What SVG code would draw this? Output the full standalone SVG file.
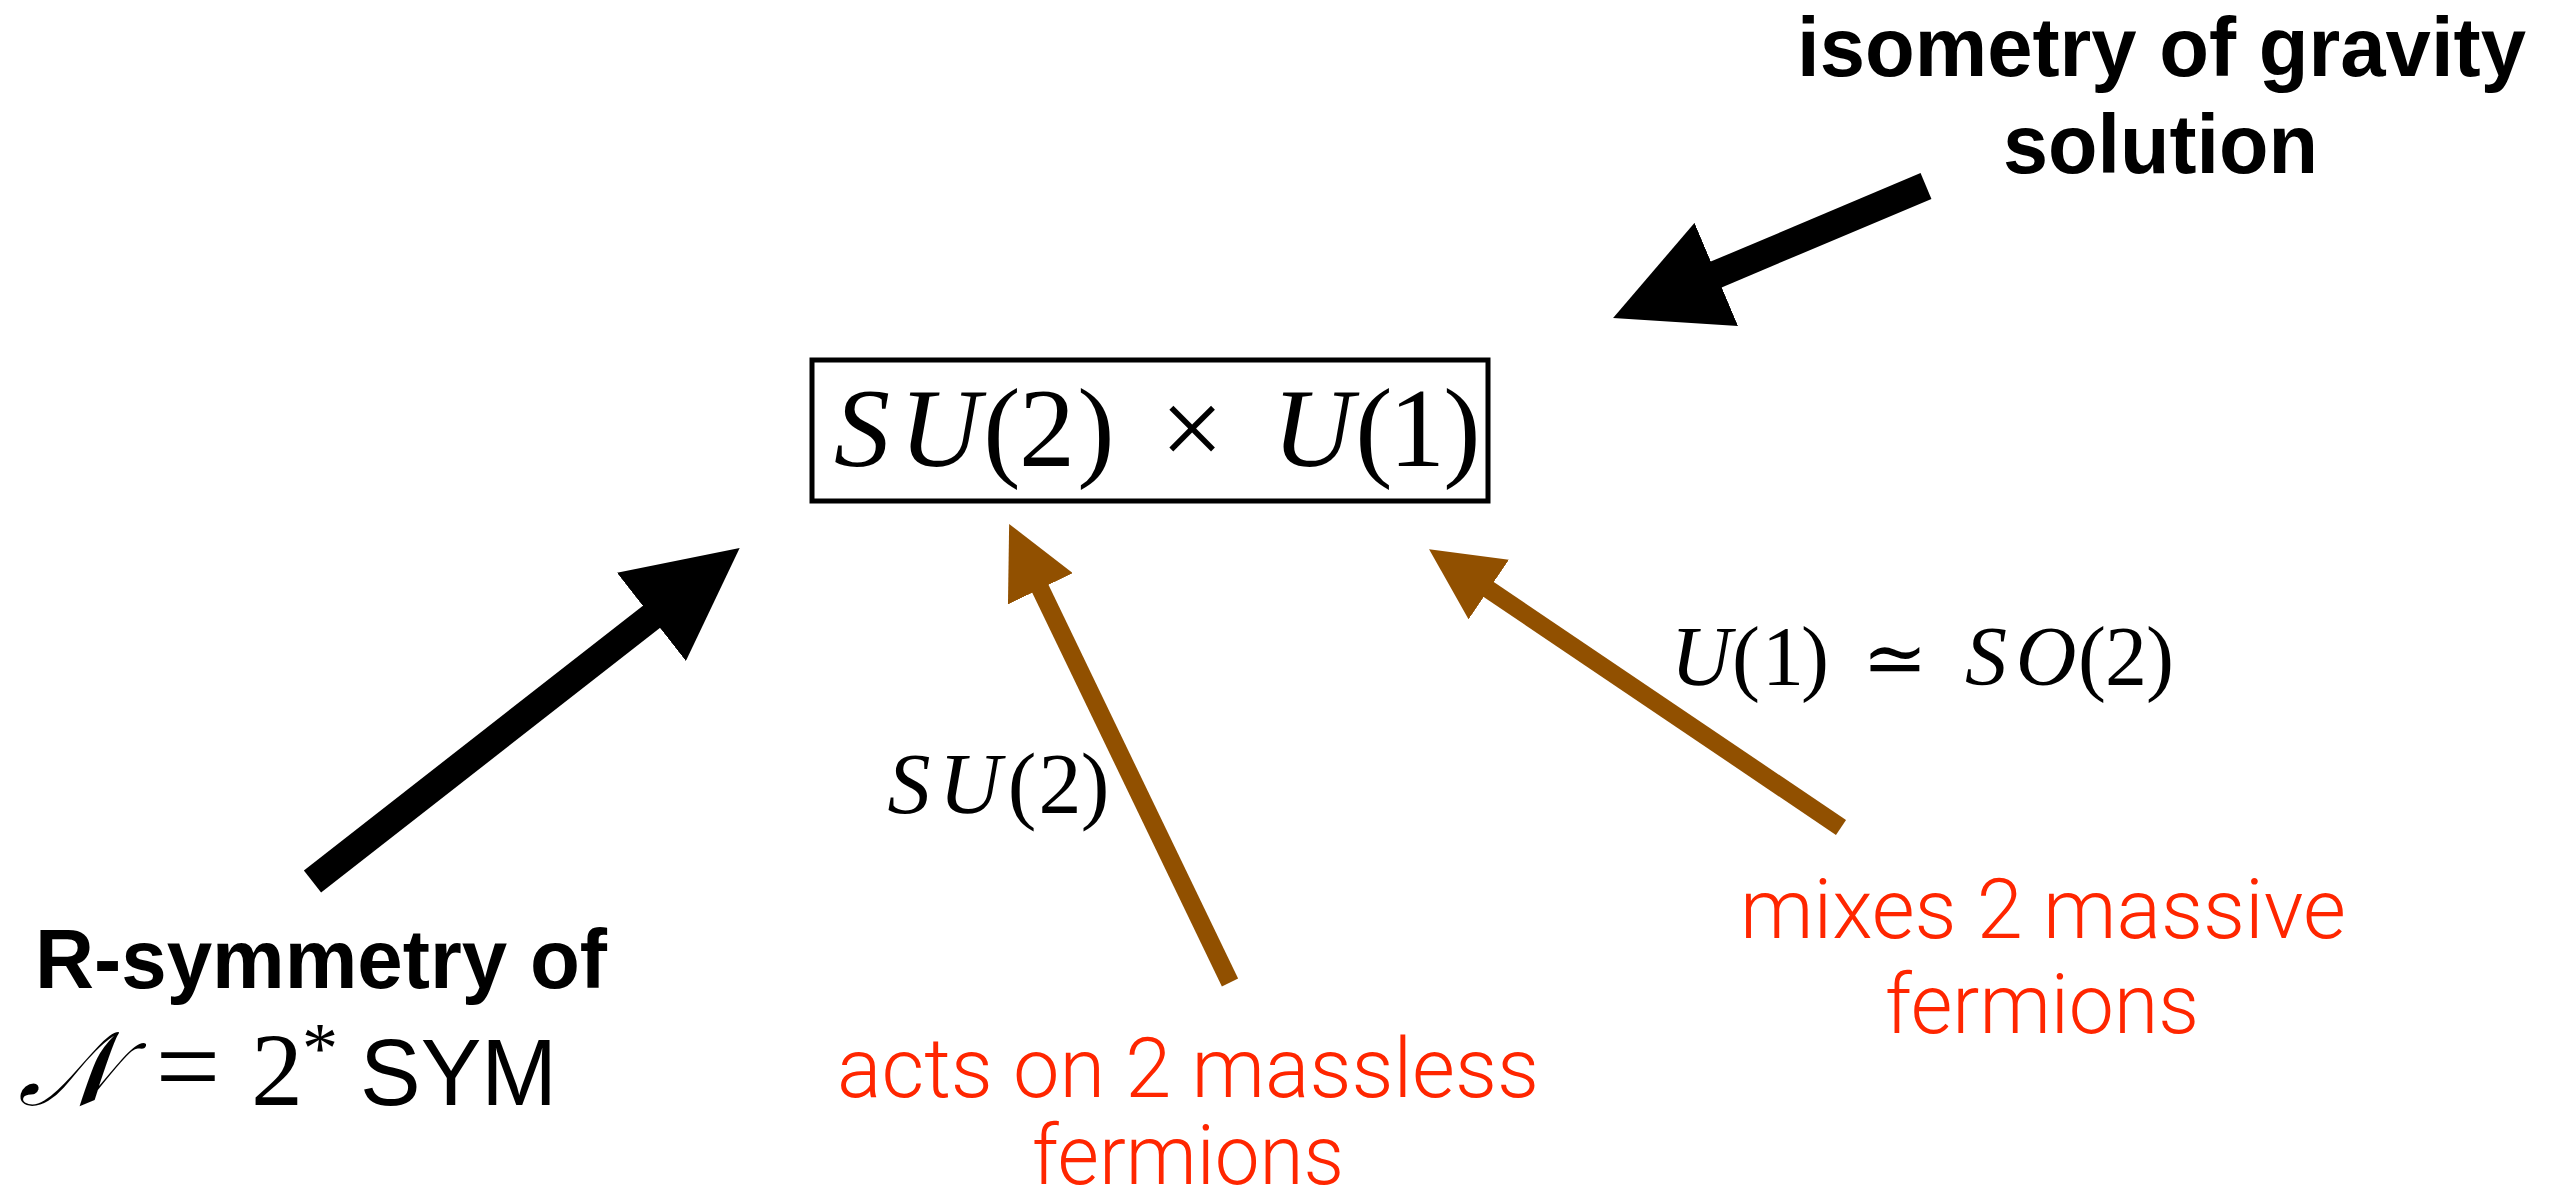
<svg xmlns="http://www.w3.org/2000/svg" width="2561" height="1198" viewBox="0 0 2561 1198">
<style>
  .bold { font-family: "Liberation Sans", Arial, sans-serif; font-weight: bold; font-size: 84px; fill: #000; }
  .red { font-family: Roboto, "Liberation Sans", Arial, sans-serif; font-weight: 300; font-size: 84px; fill: #ff2600; text-anchor: middle; }
  .sans { font-family: "Liberation Sans", Arial, sans-serif; fill: #000; }
  .math { font-family: "Liberation Serif", "Times New Roman", serif; fill: #000; text-anchor: middle; }
  .it { font-style: italic; }
  .sym { font-family: "DejaVu Serif", "DejaVu Sans", serif; }
  .blk { stroke: #000; stroke-width: 28; fill: none; }
  .brn { stroke: #915000; stroke-width: 18; fill: none; }
</style>
<defs>
  <marker id="headBlack" viewBox="0 0 4 4" refX="0.05" refY="2" markerWidth="4" markerHeight="4" orient="auto" markerUnits="strokeWidth">
    <path d="M0,0 L4,2 L0,4 Z" fill="#000"/>
  </marker>
  <marker id="headBrown" viewBox="0 0 4 4" refX="0.05" refY="2" markerWidth="4" markerHeight="4" orient="auto" markerUnits="strokeWidth">
    <path d="M0,0 L4,2 L0,4 Z" fill="#915000"/>
  </marker>
</defs>
<rect width="2561" height="1198" fill="#fff"/>

<g id="connectors">
  <line class="blk" x1="1926" y1="186" x2="1715" y2="275" marker-end="url(#headBlack)"/>
  <line class="blk" x1="312.5" y1="881.5" x2="652.5" y2="616" marker-end="url(#headBlack)"/>
  <line class="brn" x1="1230" y1="982.5" x2="1040" y2="588" marker-end="url(#headBrown)"/>
  <line class="brn" x1="1841" y1="827.5" x2="1488" y2="589" marker-end="url(#headBrown)"/>
</g>

<g id="node-group">
  <rect x="812" y="360" width="676" height="141" fill="none" stroke="#000" stroke-width="5"/>
  <text class="math" font-size="112" y="466"><tspan class="it" x="862">S</tspan><tspan class="it" x="940">U</tspan><tspan x="1002">(</tspan><tspan x="1047">2</tspan><tspan x="1096">)</tspan><tspan x="1192">×</tspan><tspan class="it" x="1313">U</tspan><tspan x="1374">(</tspan><tspan x="1417">1</tspan><tspan x="1462">)</tspan></text>
</g>

<g id="node-isometry">
  <text class="bold" x="1797" y="76" textLength="729" lengthAdjust="spacingAndGlyphs">isometry of gravity</text>
  <text class="bold" x="2003" y="173" textLength="315" lengthAdjust="spacingAndGlyphs">solution</text>
</g>

<g id="node-rsymmetry">
  <text class="bold" x="35" y="988" textLength="572" lengthAdjust="spacingAndGlyphs">R-symmetry of</text>
  <text class="math" font-size="104" y="1105"><tspan class="it" x="68" font-size="104">𝒩</tspan><tspan x="188" font-size="115">=</tspan><tspan x="277">2</tspan><tspan x="320" y="1072" font-size="72">*</tspan></text>
  <text class="sans" x="360" y="1105" font-size="95" textLength="197" lengthAdjust="spacingAndGlyphs">SYM</text>
</g>

<g id="label-su2">
  <text class="math" font-size="86" y="813"><tspan class="it" x="909">S</tspan><tspan class="it" x="970">U</tspan><tspan x="1022">(</tspan><tspan x="1060">2</tspan><tspan x="1095">)</tspan></text>
</g>

<g id="label-u1">
  <text class="math" font-size="84" y="685"><tspan class="it" x="1701">U</tspan><tspan x="1746">(</tspan><tspan x="1783">1</tspan><tspan x="1815">)</tspan><tspan class="sym" x="1895" font-size="78">≃</tspan><tspan class="it" x="1986">S</tspan><tspan class="it" x="2046">O</tspan><tspan x="2092">(</tspan><tspan x="2126">2</tspan><tspan x="2160">)</tspan></text>
</g>

<g id="node-massless">
  <text class="red" x="1188" y="1097" textLength="702" lengthAdjust="spacingAndGlyphs">acts on 2 massless</text>
  <text class="red" x="1188" y="1184" textLength="312" lengthAdjust="spacingAndGlyphs">fermions</text>
</g>

<g id="node-massive">
  <text class="red" x="2043" y="938" textLength="606" lengthAdjust="spacingAndGlyphs">mixes 2 massive</text>
  <text class="red" x="2042" y="1033" textLength="314" lengthAdjust="spacingAndGlyphs">fermions</text>
</g>
</svg>
